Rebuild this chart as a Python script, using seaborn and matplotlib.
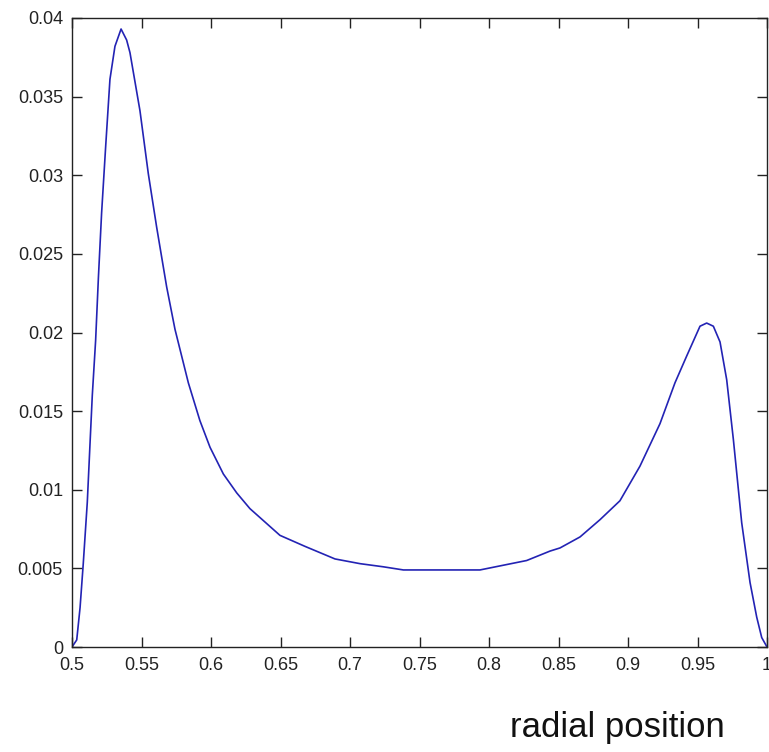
import matplotlib
matplotlib.use("Agg")
import matplotlib.pyplot as plt
import seaborn as sns
import pandas as pd

# Radial distribution profile
radial_pos = [0.5, 0.5034, 0.5058, 0.5081, 0.511, 0.513, 0.5146, 0.517, 0.519,
              0.5213, 0.5242, 0.5273, 0.5309, 0.5353, 0.5393, 0.5417, 0.5489,
              0.5549, 0.5609, 0.5681, 0.5741, 0.5837, 0.592, 0.5993, 0.6089,
              0.6185, 0.628, 0.6496, 0.6676, 0.6892, 0.7072, 0.724, 0.7384,
              0.766, 0.7935, 0.8103, 0.8271, 0.8439, 0.8511, 0.8655, 0.8799,
              0.8942, 0.9086, 0.923, 0.9338, 0.9422, 0.9518, 0.9566, 0.9614,
              0.9662, 0.971, 0.9758, 0.9818, 0.9878, 0.9926, 0.9962, 1.0]
density = [0.0, 0.00045, 0.0025, 0.0053, 0.0092, 0.013, 0.016, 0.0195, 0.0235,
           0.0276, 0.0318, 0.0361, 0.0382, 0.0393, 0.0386, 0.0378, 0.0341,
           0.0301, 0.0267, 0.0229, 0.0202, 0.0168, 0.0144, 0.0127, 0.011,
           0.0098, 0.0088, 0.0071, 0.0064, 0.0056, 0.0053, 0.0051, 0.0049,
           0.0049, 0.0049, 0.0052, 0.0055, 0.0061, 0.0063, 0.007, 0.0081,
           0.0093, 0.0115, 0.0142, 0.0168, 0.0185, 0.0204, 0.0206, 0.0204,
           0.0194, 0.017, 0.0132, 0.0079, 0.0041, 0.0019, 0.0006, 0.0]

x_ticks = [0.5, 0.55, 0.6, 0.65, 0.7, 0.75, 0.8, 0.85, 0.9, 0.95, 1.0]
x_tick_labels = ["0.5", "0.55", "0.6", "0.65", "0.7", "0.75", "0.8", "0.85",
                 "0.9", "0.95", "1"]
y_ticks = [0, 0.005, 0.01, 0.015, 0.02, 0.025, 0.03, 0.035, 0.04]
y_tick_labels = ["0", "0.005", "0.01", "0.015", "0.02", "0.025", "0.03",
                 "0.035", "0.04"]

sns.set_style("ticks")
plt.rcParams["font.family"] = ["Liberation Sans", "DejaVu Sans"]

df = pd.DataFrame({"r": radial_pos, "p": density})

fig = plt.figure(figsize=(7.69, 7.52), dpi=100)
ax = fig.add_axes([72 / 769, 105 / 752, 695 / 769, 629 / 752])

sns.lineplot(data=df, x="r", y="p", ax=ax, color="#2323b4", linewidth=1.2,
             sort=False)

ax.set_xlim(0.5, 1.0)
ax.set_ylim(0, 0.04)
ax.set_xticks(x_ticks)
ax.set_xticklabels(x_tick_labels)
ax.set_yticks(y_ticks)
ax.set_yticklabels(y_tick_labels)
ax.tick_params(direction="in", length=7, width=1, top=True, right=True,
               labelsize=13, colors="#222222")
ax.tick_params(axis="y", pad=6.5)
ax.tick_params(axis="x", pad=7)
ax.set_xlabel("")
ax.set_ylabel("")
for s in ax.spines.values():
    s.set_visible(True)
    s.set_linewidth(1.0)
    s.set_color("#222222")

fig.text(617 / 769, 1 - 737 / 752, "radial position", ha="center",
         va="baseline", fontsize=25, color="#111111")

fig.savefig("out.png", dpi=100, facecolor="white")
